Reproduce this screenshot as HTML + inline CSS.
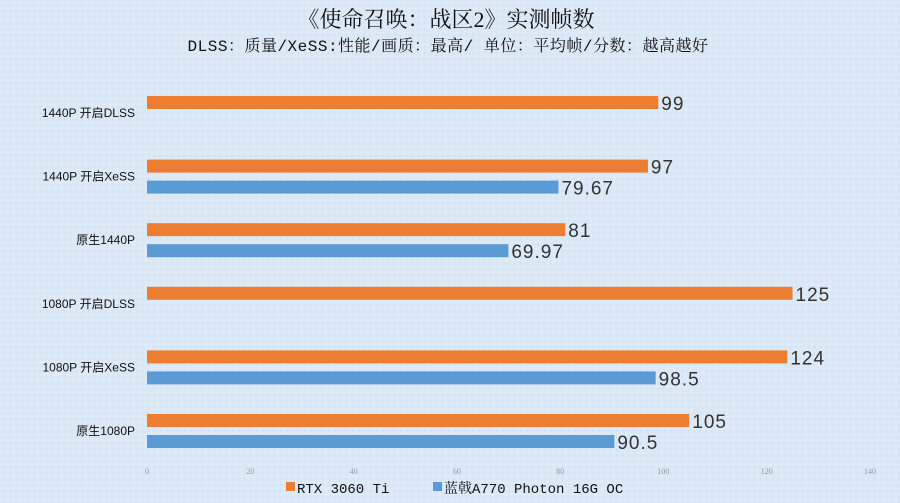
<!DOCTYPE html>
<html><head><meta charset="utf-8"><style>
html,body{margin:0;padding:0;}
body{width:900px;height:503px;overflow:hidden;background:#dbe8f5;}
svg{display:block;}
</style></head><body>
<svg id="chart" width="900" height="503">
<defs>
<pattern id="tex" width="6" height="6" patternUnits="userSpaceOnUse">
<rect width="6" height="6" fill="#dbe8f5"/>
<rect x="1" y="2" width="2" height="1" fill="#e6eff8"/>
<rect x="4" y="4" width="1" height="2" fill="#cfdfee"/>
</pattern>
</defs>
<rect width="900" height="503" fill="url(#tex)"/>
<text x="446" y="27" text-anchor="middle" font-family="'Liberation Serif','Noto Serif CJK SC',serif" font-size="22" fill="#111">《使命召唤：战区2》实测帧数</text>
<text x="448" y="51" text-anchor="middle" font-family="'Liberation Mono','Noto Serif CJK SC',monospace" font-size="16" letter-spacing="0.5" fill="#111">DLSS：质量/XeSS:性能/画质：最高/ 单位：平均帧/分数：越高越好</text>
<g id="bars"></g>
<g id="ticks"></g>
<g>
<rect x="286" y="482" width="9" height="9" fill="#ED7D31"/>
<text x="297" y="493" font-family="'Liberation Mono','Noto Serif CJK SC',monospace" font-size="14" fill="#111">RTX 3060 Ti</text>
<rect x="433" y="482" width="9" height="9" fill="#5B9BD5"/>
<text x="444" y="493" font-family="'Liberation Mono','Noto Serif CJK SC',monospace" font-size="14" fill="#111">蓝戟A770 Photon 16G OC</text>
</g>
</svg>
<script>
const categories = ["1440P 开启DLSS","1440P 开启XeSS","原生1440P","1080P 开启DLSS","1080P 开启XeSS","原生1080P"];
const rtxValues = [99,97,81,125,124,105];
const arcValues = [null,79.67,69.97,null,98.5,90.5];
const tickLabels = [0,20,40,60,80,100,120,140];

const NS="http://www.w3.org/2000/svg";
const x0=147, x1=870, xMax=140;
const xs=v=>x0+(v/xMax)*(x1-x0);
const top0=70, band=63.6;
const bars=document.getElementById('bars');
const ticks=document.getElementById('ticks');
function mk(tag,attrs){const e=document.createElementNS(NS,tag);for(const k in attrs)e.setAttribute(k,attrs[k]);return e;}
categories.forEach((c,i)=>{
  const t=top0+i*band;
  const lab=mk('text',{x:135,y:t+47,'text-anchor':'end','font-family':"'Liberation Sans','Noto Sans CJK SC',sans-serif",'font-size':12,fill:'#111'});
  lab.textContent=c;
  
  
  bars.appendChild(lab);
  [[rtxValues[i],'#ED7D31',26,'bar-rtx'],[arcValues[i],'#5B9BD5',47,'bar-a770']].forEach(([v,col,off,nm])=>{
    if(v==null)return;
    const r=mk('rect',{x:x0,y:t+off,width:xs(v)-x0,height:13,fill:col});
    
    
    bars.appendChild(r);
    const tx=mk('text',{x:xs(v)+3,y:t+off+14,'font-family':"'Liberation Sans',sans-serif",'font-size':19,'letter-spacing':1,fill:'#333'});
    tx.textContent=String(v);
    
    
    bars.appendChild(tx);
  });
});
tickLabels.forEach(v=>{
  const t=mk('text',{x:xs(v),y:474,'text-anchor':'middle','font-family':"'Liberation Serif',serif",'font-size':8,fill:'#8a9aa8'});
  t.textContent=String(v);
  
  
  ticks.appendChild(t);
});
</script>
</body></html>
